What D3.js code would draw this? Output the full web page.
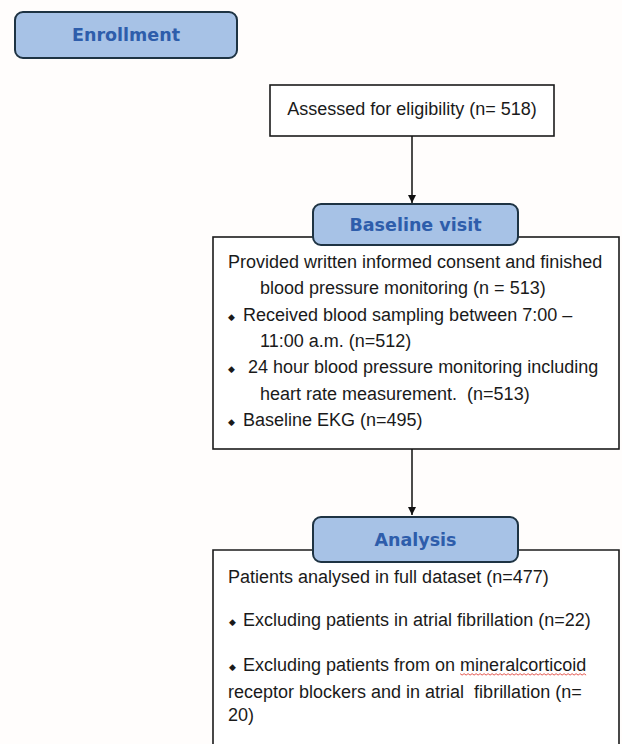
<!DOCTYPE html>
<html>
<head>
<meta charset="utf-8">
<script src="https://cdn.jsdelivr.net/npm/d3@7"></script>
<style>
  body { margin: 0; background: #fffdfc; }
  svg { display: block; }
</style>
</head>
<body>
<div id="chart-area"></div>
<script>
// flow chart content
var stages = ["Enrollment", "Baseline visit", "Analysis"];
var assessedText = "Assessed for eligibility (n= 518)";
var baselineLines = [
  { text: "Provided written informed consent and finished", bullet: false, indent: 0 },
  { text: "blood pressure monitoring (n = 513)", bullet: false, indent: 1 },
  { text: "Received blood sampling between 7:00 \u2013", bullet: true, indent: 0 },
  { text: "11:00 a.m. (n=512)", bullet: false, indent: 1 },
  { text: " 24 hour blood pressure monitoring including", bullet: true, indent: 0 },
  { text: "heart rate measurement.  (n=513)", bullet: false, indent: 1 },
  { text: "Baseline EKG (n=495)", bullet: true, indent: 0 }
];
var analysisLines = [
  { text: "Patients analysed in full dataset (n=477)", bullet: false, row: 0 },
  { text: "Excluding patients in atrial fibrillation (n=22)", bullet: true, row: 1.65 },
  { text: "Excluding patients from on mineralcorticoid", bullet: true, row: 3.38 },
  { text: "receptor blockers and in atrial  fibrillation (n=", bullet: false, row: 4.42 },
  { text: "20)", bullet: false, row: 5.3 }
];

var width = 622, height = 744;
var tabFill = "#a7c2e6", tabStroke = "#1e3343", tabText = "#2e5dab";
var bodyFont = "'Liberation Sans', Arial, sans-serif";
var headFont = "'DejaVu Sans', Verdana, sans-serif";

var svg = d3.select("#chart-area")
  .append("svg")
  .attr("width", width)
  .attr("height", height);

svg.append("defs").append("marker")
  .attr("id", "arrow")
  .attr("viewBox", "0 0 10 10")
  .attr("refX", 10).attr("refY", 5)
  .attr("markerWidth", 5.5).attr("markerHeight", 5.5)
  .attr("orient", "auto")
  .append("path")
  .attr("d", "M0,0 L10,5 L0,10 Z")
  .attr("fill", "#111");

// big boxes (drawn first, tabs on top)
svg.append("rect")
  .attr("x", 270).attr("y", 85).attr("width", 284).attr("height", 51)
  .attr("fill", "#fff").attr("stroke", "#1b1b1b").attr("stroke-width", 1.6);
svg.append("rect")
  .attr("x", 213).attr("y", 237).attr("width", 406).attr("height", 212)
  .attr("fill", "#fff").attr("stroke", "#1b1b1b").attr("stroke-width", 1.6);
svg.append("path")
  .attr("d", "M213,760 V550 H619 V760")
  .attr("fill", "#fff").attr("stroke", "#1b1b1b").attr("stroke-width", 1.6);

// arrows
var arrows = [[412, 136, 203], [412, 449, 515]];
svg.selectAll(".arrow").data(arrows).enter()
  .append("line")
  .attr("class", "arrow")
  .attr("x1", d => d[0]).attr("x2", d => d[0])
  .attr("y1", d => d[1]).attr("y2", d => d[2])
  .attr("stroke", "#111").attr("stroke-width", 1.5)
  .attr("marker-end", "url(#arrow)");

// tabs
var tabs = [
  { x: 15, y: 12, w: 222, h: 46 },
  { x: 313, y: 204, w: 205, h: 41 },
  { x: 313, y: 517, w: 205, h: 45 }
];
var tab = svg.selectAll(".tab").data(stages).enter()
  .append("g").attr("class", "tab")
  .attr("transform", (d, i) => "translate(" + tabs[i].x + "," + tabs[i].y + ")");
tab.append("rect")
  .attr("width", (d, i) => tabs[i].w)
  .attr("height", (d, i) => tabs[i].h)
  .attr("rx", 8).attr("ry", 8)
  .attr("fill", tabFill).attr("stroke", tabStroke).attr("stroke-width", 2);
tab.append("text")
  .attr("x", (d, i) => tabs[i].w / 2)
  .attr("y", (d, i) => tabs[i].h / 2 + 6)
  .attr("text-anchor", "middle")
  .attr("font-family", headFont)
  .attr("font-weight", "bold")
  .attr("font-size", "17.5px")
  .attr("fill", tabText)
  .text(d => d);

// assessed text
svg.append("text")
  .attr("x", 412).attr("y", 115)
  .attr("text-anchor", "middle")
  .attr("font-family", bodyFont).attr("font-size", "18px")
  .attr("fill", "#1a1a1a")
  .text(assessedText);

// baseline box lines
var yBase = d3.scaleLinear().domain([0, 6]).range([268, 426]);
var bl = svg.selectAll(".bl").data(baselineLines).enter()
  .append("g").attr("class", "bl");
bl.append("text")
  .attr("x", d => d.indent ? 260 : (d.bullet ? 243 : 228))
  .attr("y", (d, i) => yBase(i))
  .attr("font-family", bodyFont).attr("font-size", "18px")
  .attr("fill", "#1a1a1a")
  .style("white-space", "pre")
  .text(d => d.text);
bl.filter(d => d.bullet).append("text")
  .attr("x", 228).attr("y", d => yBase(baselineLines.indexOf(d)) - 1)
  .attr("font-family", bodyFont).attr("font-size", "9px")
  .attr("fill", "#1a1a1a")
  .text("\u25C6");

// analysis box lines
var yAn = d3.scaleLinear().domain([0, 1]).range([583, 609]);
var al = svg.selectAll(".al").data(analysisLines).enter()
  .append("g").attr("class", "al");
var alText = al.append("text")
  .attr("x", d => d.bullet ? 243 : 228)
  .attr("y", d => yAn(d.row))
  .attr("font-family", bodyFont).attr("font-size", "18px")
  .attr("fill", "#1a1a1a")
  .style("white-space", "pre")
  .text(d => d.text);
al.filter(d => d.bullet).append("text")
  .attr("x", 229).attr("y", d => yAn(d.row) - 1)
  .attr("font-family", bodyFont).attr("font-size", "9px")
  .attr("fill", "#1a1a1a")
  .text("\u25C6");

// spell-check squiggle under "mineralcorticoid"
var target = alText.filter(d => d.text.indexOf("mineralcorticoid") >= 0);
if (!target.empty()) {
  var node = target.node();
  var str = node.textContent;
  var start = str.indexOf("mineralcorticoid");
  var x0 = node.getStartPositionOfChar(start).x;
  var x1 = node.getEndPositionOfChar(start + "mineralcorticoid".length - 1).x;
  var yw = yAn(target.datum().row) + 3;
  var pts = d3.range(x0, x1, 2).map((x, i) => [x, yw + (i % 2 ? 1.2 : -0.2)]);
  svg.append("path")
    .attr("d", d3.line()(pts))
    .attr("fill", "none").attr("stroke", "#e0463c").attr("stroke-width", 0.9);
}
</script>
</body>
</html>
